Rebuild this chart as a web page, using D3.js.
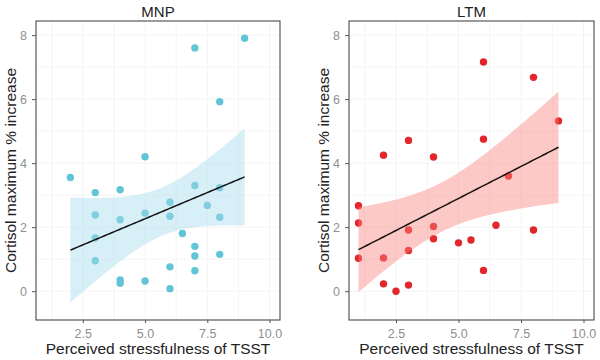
<!DOCTYPE html>
<html lang="en">
<head>
  <meta charset="UTF-8" />
  <script src="https://d3js.org/d3.v7.min.js"></script>
  <title>Cortisol vs perceived stressfulness</title>
  <style>
    body { margin: 0; background: #fff; }
    text { font-family: "Liberation Sans", Arial, sans-serif; }
    .tick text { fill: #8f8f8f; font-size: 12.5px; }
    .tick line { stroke: #555; }
    .axis-title { fill: #222; font-size: 15.5px; }
    .strip { fill: #222; font-size: 15px; }
  </style>
</head>
<body>
  <script>
    // MNP group
    var mnpX = [2, 3, 3, 3, 3, 4, 4, 4, 4, 5, 5, 5, 6, 6, 6, 6, 6.5, 7, 7, 7, 7, 7, 7.5, 8, 8, 8, 8, 9];
    var mnpY = [3.55, 3.08, 2.38, 1.66, 0.95, 3.17, 2.23, 0.35, 0.25, 4.2, 2.44, 0.32, 2.78, 2.34, 0.76, 0.08,
      1.8, 7.6, 3.3, 1.4, 1.1, 0.64, 2.68, 5.92, 3.23, 2.31, 1.15, 7.9];

    // LTM group
    var ltmX = [1, 1, 1, 2, 2, 2, 2.5, 3, 3, 3, 3, 4, 4, 4, 5, 5.5, 6, 6, 6, 6.5, 7, 8, 8, 9];
    var ltmY = [2.67, 2.13, 1.03, 4.25, 1.04, 0.23, 0.0, 4.71, 1.91, 1.27, 0.19, 4.19, 2.02, 1.64, 1.51, 1.6,
      7.16, 4.75, 0.65, 2.06, 3.6, 6.68, 1.91, 5.32];

    var xTicks = [2.5, 5.0, 7.5, 10.0];
    var yTicks = [0, 2, 4, 6, 8];

    var width = 600, height = 360;
    var svg = d3.select("body").append("svg").attr("width", width).attr("height", height);

    // t quantile (0.975) approximation
    function tq(df) {
      var z = 1.959964;
      return z + (z * z * z + z) / (4 * df) + (5 * Math.pow(z, 5) + 16 * z * z * z + 3 * z) / (96 * df * df);
    }

    // linear fit with 95% confidence band, like geom_smooth(method = "lm")
    function lmBand(xs, ys) {
      var n = xs.length, mx = d3.mean(xs), my = d3.mean(ys);
      var sxx = d3.sum(xs, d => (d - mx) * (d - mx));
      var sxy = d3.sum(xs, (d, i) => (d - mx) * (ys[i] - my));
      var b = sxy / sxx, a = my - b * mx;
      var sse = d3.sum(xs, (d, i) => Math.pow(ys[i] - (a + b * d), 2));
      var s = Math.sqrt(sse / (n - 2)), t = tq(n - 2);
      var lo = d3.min(xs), hi = d3.max(xs);
      return d3.range(80).map(function (k) {
        var x = lo + (hi - lo) * k / 79;
        var fit = a + b * x;
        var se = s * Math.sqrt(1 / n + (x - mx) * (x - mx) / sxx);
        return { x: x, fit: fit, lo: fit - t * se, hi: fit + t * se };
      });
    }

    function panel(left, right, title, xs, ys, pointColor, bandColor, bandOpacity) {
      var top = 21, bottom = 320;
      var x = d3.scaleLinear().domain([0.62, 10.42]).range([left, right]);
      var y = d3.scaleLinear().domain([-0.9, 8.44]).range([bottom, top]);
      var g = svg.append("g");

      // grid
      var minorX = [1.25, 3.75, 6.25, 8.75], minorY = [1, 3, 5, 7];
      g.selectAll(".gx").data(xTicks.concat(minorX)).enter().append("line")
        .attr("x1", d => x(d)).attr("x2", d => x(d)).attr("y1", top).attr("y2", bottom)
        .style("stroke", "#f1f1f1").style("stroke-width", 0.8);
      g.selectAll(".gy").data(yTicks.concat(minorY)).enter().append("line")
        .attr("x1", left).attr("x2", right).attr("y1", d => y(d)).attr("y2", d => y(d))
        .style("stroke", "#f1f1f1").style("stroke-width", 0.8);

      // points
      var pts = xs.map((d, i) => ({ x: d, y: ys[i] }));
      g.selectAll("circle").data(pts).enter().append("circle")
        .attr("cx", d => x(d.x)).attr("cy", d => y(d.y)).attr("r", 3.7)
        .style("fill", pointColor);

      // smooth
      var band = lmBand(xs, ys);
      g.append("path").datum(band)
        .attr("d", d3.area().x(d => x(d.x)).y0(d => y(d.lo)).y1(d => y(d.hi)))
        .style("fill", bandColor).style("opacity", bandOpacity);
      g.append("path").datum(band)
        .attr("d", d3.line().x(d => x(d.x)).y(d => y(d.fit)))
        .style("fill", "none").style("stroke", "#141414").style("stroke-width", 1.5);

      // axes
      g.append("g").attr("transform", "translate(0," + bottom + ")")
        .call(d3.axisBottom(x).tickValues(xTicks).tickFormat(d3.format(".1f")).tickSize(3).tickPadding(6))
        .call(a => a.select(".domain").remove());
      g.append("g").attr("transform", "translate(" + left + ",0)")
        .call(d3.axisLeft(y).tickValues(yTicks).tickSize(4).tickPadding(5))
        .call(a => a.select(".domain").remove());

      // border
      g.append("rect").attr("x", left).attr("y", top).attr("width", right - left).attr("height", bottom - top)
        .style("fill", "none").style("stroke", "#4a4a4a").style("stroke-width", 1.1);

      g.append("text").attr("class", "strip").attr("x", (left + right) / 2).attr("y", 17)
        .attr("text-anchor", "middle").text(title);
      g.append("text").attr("class", "axis-title").attr("x", (left + right) / 2).attr("y", 354)
        .attr("text-anchor", "middle").text("Perceived stressfulness of TSST");
      g.append("text").attr("class", "axis-title")
        .attr("transform", "translate(" + (left - 20) + "," + ((top + bottom) / 2) + ") rotate(-90)")
        .attr("text-anchor", "middle").text("Cortisol maximum % increase");
    }

    panel(36, 280, "MNP", mnpX, mnpY, "#62c4d7", "#a6dcec", 0.45);
    panel(349, 594, "LTM", ltmX, ltmY, "#e2262c", "#fa847e", 0.44);
  </script>
</body>
</html>
